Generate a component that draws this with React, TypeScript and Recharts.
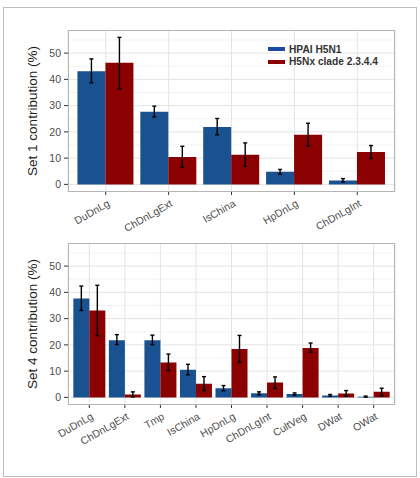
import { BarChart, Bar, XAxis, YAxis, CartesianGrid, ErrorBar } from 'recharts';

const FONT = '"Liberation Sans", Arial, Helvetica, sans-serif';
const BLUE = '#1a5190';
const RED = '#8b0000';

const seriesNames = ['HPAI H5N1', 'H5Nx clade 2.3.4.4'];

// Set 1
const set1Cats = ['DuDnLg', 'ChDnLgExt', 'IsChina', 'HpDnLg', 'ChDnLgInt'];
const set1H5N1 = [43.1, 27.7, 21.9, 4.8, 1.5];
const set1H5N1Lo = [38.7, 25.7, 18.9, 3.9, 0.9];
const set1H5N1Hi = [47.8, 29.8, 25.1, 5.7, 2.2];
const set1H5Nx = [46.3, 10.4, 11.3, 18.9, 12.3];
const set1H5NxLo = [36.4, 6.5, 6.9, 14.6, 9.9];
const set1H5NxHi = [56.0, 14.5, 15.8, 23.3, 14.8];

// Set 4
const set4Cats = ['DuDnLg', 'ChDnLgExt', 'Tmp', 'IsChina', 'HpDnLg', 'ChDnLgInt', 'CultVeg', 'DWat', 'OWat'];
const set4H5N1 = [37.7, 21.8, 21.8, 10.5, 3.5, 1.6, 1.25, 0.75, 0.25];
const set4H5N1Lo = [33.1, 20.1, 20.1, 8.6, 2.5, 1.0, 0.8, 0.4, 0.1];
const set4H5N1Hi = [42.4, 23.9, 23.7, 12.6, 4.5, 2.1, 1.7, 1.1, 0.5];
const set4H5Nx = [33.1, 1.1, 13.3, 5.2, 18.4, 5.7, 18.8, 1.5, 2.1];
const set4H5NxLo = [23.5, 0.2, 10.2, 2.6, 13.3, 3.4, 17.2, 0.5, 0.6];
const set4H5NxHi = [42.7, 2.1, 16.5, 7.9, 23.6, 7.8, 20.7, 2.6, 3.5];

const yTicks = [0, 10, 20, 30, 40, 50];
const yMinor = [5, 15, 25, 35, 45, 55];
const yDomain = [-2.9, 58.8];

const M = { top: 30, right: 25, left: 28, bottom: 0 };
const Y_W = 40;
const PLOT_H = 162;
const PLOT_W = 420 - M.left - Y_W - M.right;

function buildRows(cats, a, aLo, aHi, b, bLo, bHi) {
  return cats.map((name, i) => ({
    name,
    h5n1: a[i],
    h5n1Err: [a[i] - aLo[i], aHi[i] - a[i]],
    h5nx: b[i],
    h5nxErr: [b[i] - bLo[i], bHi[i] - b[i]],
  }));
}

// rotated category label, right end pinned just under the tick
function SlantTick({ x, y, payload }) {
  const ax = x + 1;
  return (
    <text
      x={ax}
      y={y}
      dy="0.71em"
      textAnchor="end"
      transform={`rotate(-30, ${ax}, ${y})`}
      fontSize={10.5}
      fill="#4d4d4d"
      fontFamily={FONT}
    >
      {payload.value}
    </text>
  );
}

function Panel({ rows, yLabel, top, height }) {
  const plotLeft = M.left + Y_W;
  // leave 0.1 of a category step at each end, as a discrete ggplot scale does
  const edge = (0.1 * PLOT_W) / (rows.length + 0.2);
  return (
    <div style={{ position: 'absolute', left: 0, top, width: 420, height }}>
      <BarChart
        width={420}
        height={height}
        data={rows}
        margin={M}
        barCategoryGap="5%"
        barGap={0}
      >
        <CartesianGrid horizontalValues={yMinor} vertical={false} stroke="#f3f3f3" />
        <CartesianGrid horizontalValues={yTicks} stroke="#e4e4e4" />
        <XAxis
          dataKey="name"
          interval={0}
          padding={{ left: edge, right: edge }}
          height={height - M.top - PLOT_H}
          axisLine={false}
          tickSize={3}
          tickMargin={4}
          tickLine={{ stroke: '#333' }}
          tick={<SlantTick />}
        />
        <YAxis
          width={Y_W}
          domain={yDomain}
          ticks={yTicks}
          allowDataOverflow
          axisLine={false}
          tickSize={4}
          tickMargin={3}
          tickLine={{ stroke: '#333' }}
          tick={{ fontSize: 10.5, fill: '#4d4d4d', fontFamily: FONT }}
          label={{
            content: ({ viewBox }) => {
              const cx = viewBox.x + 4;
              const cy = viewBox.y + viewBox.height / 2;
              return (
                <text
                  x={cx}
                  y={cy}
                  transform={`rotate(-90, ${cx}, ${cy})`}
                  textAnchor="middle"
                  dominantBaseline="central"
                  fontSize={13.5}
                  fill="#222"
                  fontFamily={FONT}
                >
                  {yLabel}
                </text>
              );
            },
          }}
        />
        <Bar dataKey="h5n1" fill={BLUE} isAnimationActive={false}>
          <ErrorBar dataKey="h5n1Err" stroke="#000" strokeWidth={1.4} width={2} />
        </Bar>
        <Bar dataKey="h5nx" fill={RED} isAnimationActive={false}>
          <ErrorBar dataKey="h5nxErr" stroke="#000" strokeWidth={1.4} width={2} />
        </Bar>
      </BarChart>
      <div
        style={{
          position: 'absolute',
          left: plotLeft,
          top: M.top,
          width: PLOT_W,
          height: PLOT_H,
          border: '1px solid #b5b5b5',
          boxSizing: 'border-box',
          pointerEvents: 'none',
        }}
      />
    </div>
  );
}

function LegendBox() {
  const colors = ['#1c4aa6', RED];
  return (
    <div style={{ position: 'absolute', left: 268, top: 43, fontFamily: FONT }}>
      {seriesNames.map((n, i) => (
        <div key={n} style={{ display: 'flex', alignItems: 'center', height: 12.5 }}>
          <div style={{ width: 17, height: 4, background: colors[i], marginRight: 4 }} />
          <span style={{ fontSize: 10.2, fontWeight: 'bold', color: '#333' }}>{n}</span>
        </div>
      ))}
    </div>
  );
}

export default function App() {
  const set1Rows = buildRows(set1Cats, set1H5N1, set1H5N1Lo, set1H5N1Hi, set1H5Nx, set1H5NxLo, set1H5NxHi);
  const set4Rows = buildRows(set4Cats, set4H5N1, set4H5N1Lo, set4H5N1Hi, set4H5Nx, set4H5NxLo, set4H5NxHi);

  return (
    <div style={{ position: 'absolute', left: 0, top: 0, width: 420, height: 478, background: '#fff' }}>
      <div
        style={{
          position: 'absolute',
          left: 3,
          top: 7,
          width: 414,
          height: 470,
          border: '1px solid #bdbdbd',
          boxSizing: 'border-box',
        }}
      />
      <Panel rows={set1Rows} yLabel="Set 1 contribution (%)" top={0} height={236} />
      <LegendBox />
      <Panel rows={set4Rows} yLabel="Set 4 contribution (%)" top={213} height={250} />
    </div>
  );
}
